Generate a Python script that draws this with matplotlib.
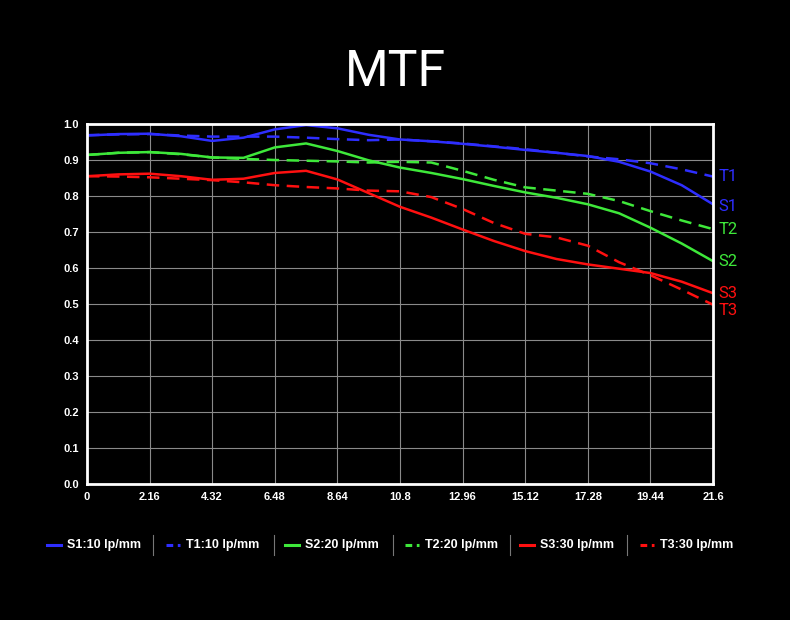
import matplotlib
matplotlib.use("Agg")
import matplotlib.pyplot as plt
from matplotlib.lines import Line2D
import numpy as np

# field position (mm), sampled every 1.08
x = np.round(np.arange(21) * 1.08, 2)

s1 = [0.968, 0.972, 0.973, 0.966, 0.953, 0.962, 0.985, 0.997, 0.988, 0.970, 0.957,
      0.952, 0.945, 0.937, 0.928, 0.920, 0.911, 0.895, 0.868, 0.830, 0.777]
t1 = [0.969, 0.971, 0.972, 0.968, 0.965, 0.965, 0.965, 0.962, 0.958, 0.955, 0.957,
      0.952, 0.946, 0.938, 0.930, 0.920, 0.910, 0.902, 0.891, 0.874, 0.854]
s2 = [0.914, 0.920, 0.922, 0.917, 0.907, 0.906, 0.935, 0.946, 0.925, 0.899, 0.879,
      0.864, 0.847, 0.828, 0.810, 0.795, 0.777, 0.752, 0.712, 0.668, 0.619]
t2 = [0.914, 0.920, 0.922, 0.916, 0.907, 0.903, 0.900, 0.898, 0.896, 0.893, 0.895,
      0.893, 0.870, 0.845, 0.824, 0.815, 0.806, 0.786, 0.758, 0.732, 0.708]
s3 = [0.855, 0.860, 0.862, 0.855, 0.845, 0.848, 0.864, 0.870, 0.846, 0.808, 0.770,
      0.740, 0.707, 0.675, 0.647, 0.625, 0.610, 0.598, 0.586, 0.562, 0.530]
t3 = [0.855, 0.854, 0.852, 0.848, 0.844, 0.838, 0.830, 0.825, 0.821, 0.815, 0.813,
      0.797, 0.764, 0.725, 0.695, 0.685, 0.662, 0.616, 0.580, 0.540, 0.498]

names = ["S1", "T1", "S2", "T2", "S3", "T3"]
legend_labels = ["S1:10 lp/mm", "T1:10 lp/mm", "S2:20 lp/mm",
                 "T2:20 lp/mm", "S3:30 lp/mm", "T3:30 lp/mm"]
series = [s1, t1, s2, t2, s3, t3]

xticks = [0, 2.16, 4.32, 6.48, 8.64, 10.8, 12.96, 15.12, 17.28, 19.44, 21.6]
xticklabels = ["0", "2.16", "4.32", "6.48", "8.64", "10.8", "12.96", "15.12", "17.28", "19.44", "21.6"]
yticks = np.round(np.arange(0, 1.01, 0.1), 1)

BLUE = "#2e2eff"
GREEN = "#3ee83a"
RED = "#ff1010"
colors = [BLUE, BLUE, GREEN, GREEN, RED, RED]
styles = ["-", (0, (5, 3)), "-", (0, (5, 3)), "-", (0, (5, 3))]
label_shift = [-1.5, 0, 0, 0, -0.5, -4.5]  # points, keeps S3/T3 apart

plt.rcParams["font.family"] = ["Liberation Sans", "DejaVu Sans"]

fig = plt.figure(figsize=(7.9, 6.2), dpi=100, facecolor="black")
ax = fig.add_axes([87 / 790, 136 / 620, 626 / 790, 360 / 620])
ax.set_facecolor("black")

for ys, c, ls, nm, sh in zip(series, colors, styles, names, label_shift):
    ax.plot(x, ys, color=c, linestyle=ls, linewidth=1.8)
    ax.annotate(nm, xy=(x[-1], ys[-1]), xytext=(4, sh), textcoords="offset points",
                color=c, fontsize=12, va="center", ha="left", annotation_clip=False,
                family="Roboto")

ax.set_xlim(0, 21.6)
ax.set_ylim(0, 1.0)
ax.set_xticks(xticks)
ax.set_xticklabels(xticklabels)
ax.set_yticks(yticks)
ax.set_yticklabels([f"{v:.1f}" for v in yticks])
ax.grid(True, color="#8a8a8a", linewidth=0.8)
ax.tick_params(length=0, colors="white", labelsize=8, pad=6)
for lab in ax.get_xticklabels() + ax.get_yticklabels():
    lab.set_fontweight("bold")
for sp in ax.spines.values():
    sp.set_color("white")
    sp.set_linewidth(2)

fig.text(0.5, 1 - 72 / 620, "MTF", color="white", fontsize=36,
         ha="center", va="center", family="Roboto")

# custom legend row with separators
leg_y = 1 - 545 / 620
handle_x = [47, 166, 285, 405, 520, 640]
for hx, c, ls, lbl in zip(handle_x, colors, styles, legend_labels):
    dash = ls if ls == "-" else (0, (2.2, 1.5))
    fig.add_artist(Line2D([hx / 790, (hx + 14) / 790], [leg_y, leg_y], color=c,
                          linestyle=dash, linewidth=2.2))
    fig.text((hx + 20) / 790, leg_y, lbl, color="white", fontsize=9,
             fontweight="bold", va="center", ha="left")
for sx in [153, 274, 393, 510, 627]:
    fig.add_artist(Line2D([sx / 790, sx / 790], [leg_y - 10 / 620, leg_y + 10 / 620],
                          color="#777777", linewidth=0.8))

fig.savefig("out.png", dpi=100, facecolor="black")
